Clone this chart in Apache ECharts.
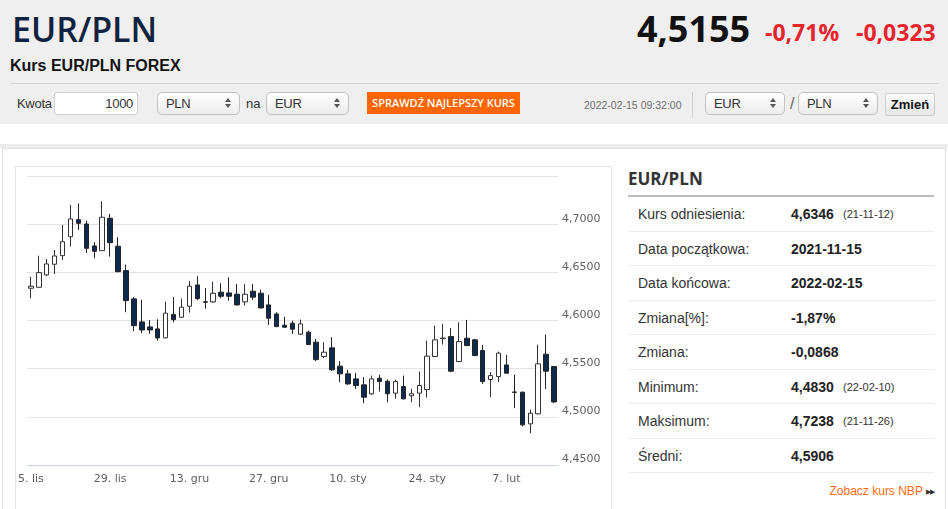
<!DOCTYPE html>
<html>
<head>
<meta charset="utf-8">
<script src="https://cdn.jsdelivr.net/npm/echarts@6/dist/echarts.min.js"></script>
<style>
  body { margin: 0; width: 948px; height: 509px; overflow: hidden; background: #fff; font-family: Arial, "Liberation Sans", sans-serif; color: #333; position: relative; }
  .abs { position: absolute; white-space: nowrap; }
  .sel { position: absolute; height: 21px; border: 1px solid #c2c2c2; border-radius: 5px; background: linear-gradient(#ffffff, #ececec); font-size: 13px; letter-spacing: -0.3px; line-height: 21px; padding-left: 8px; box-sizing: content-box; }
  .sel .up { position: absolute; right: 8px; top: 5px; border-left: 3px solid transparent; border-right: 3px solid transparent; border-bottom: 4px solid #555; }
  .sel .dn { position: absolute; right: 8px; top: 11px; border-left: 3px solid transparent; border-right: 3px solid transparent; border-top: 4px solid #555; }
  .row { position: absolute; left: 628px; width: 306px; height: 33.5px; border-bottom: 1px solid #ececec; font-size: 14px; }
  .row span { position: absolute; top: 0; line-height: 34px; }
  .row .lab { left: 10px; color: #333; }
  .row .val { left: 163px; font-weight: bold; color: #222; }
  .row .sm { left: 215px; font-size: 11px; color: #333; }
</style>
</head>
<body>
<!-- tlo naglowka -->
<div class="abs" style="left:0;top:0;width:948px;height:124px;background:#efefef;"></div>
<div class="abs" style="left:0;top:144px;width:948px;height:4px;background:#ececec;"></div>

<!-- naglowek -->
<div class="abs" style="left:12px;top:12px;font:600 34px/34px 'Open Sans';color:#0f2340;">EUR/PLN</div>
<div class="abs" style="left:10px;top:58px;font:bold 16px/16px Arial,'Liberation Sans';color:#111;">Kurs EUR/PLN FOREX</div>
<div class="abs" style="left:637px;top:11px;font:bold 36px/36px 'Open Sans';color:#111;">4,5155</div>
<div class="abs" style="left:765px;top:21px;font:bold 23px/23px 'Open Sans';color:#e8232c;">-0,71%</div>
<div class="abs" style="left:856px;top:21px;font:bold 23px/23px 'Open Sans';color:#e8232c;">-0,0323</div>
<div class="abs" style="left:10px;top:83px;width:929px;height:1px;background:#d4d4d4;"></div>

<!-- formularz -->
<div class="abs" style="left:17px;top:92px;font-size:13px;letter-spacing:-0.3px;line-height:23px;">Kwota</div>
<div class="abs" style="left:54px;top:92px;width:82px;height:21px;border:1px solid #cfcfcf;border-radius:3px;background:#fff;font-size:13px;letter-spacing:-0.3px;line-height:21px;text-align:right;"><span style="padding-right:4px;">1000</span></div>
<div class="sel" style="left:157px;top:92px;width:73px;">PLN<i class="up"></i><i class="dn"></i></div>
<div class="abs" style="left:246px;top:92px;font-size:13px;line-height:23px;">na</div>
<div class="sel" style="left:266px;top:92px;width:73px;">EUR<i class="up"></i><i class="dn"></i></div>
<div class="abs" style="left:367px;top:92px;width:153px;height:22px;background:#ff6600;color:#fff;font:600 11px/22px 'Open Sans';text-align:center;">SPRAWDŹ NAJLEPSZY KURS</div>
<div class="abs" style="left:584px;top:96px;font-size:10.5px;line-height:18px;color:#6e6e6e;">2022-02-15 09:32:00</div>
<div class="abs" style="left:692px;top:92px;width:1px;height:26px;background:#d0d0d0;"></div>
<div class="sel" style="left:705px;top:92px;width:70px;">EUR<i class="up"></i><i class="dn"></i></div>
<div class="abs" style="left:790px;top:92px;font-size:16px;line-height:23px;color:#666;">/</div>
<div class="sel" style="left:798px;top:92px;width:70px;">PLN<i class="up"></i><i class="dn"></i></div>
<div class="abs" style="left:885px;top:93px;width:48px;height:21px;border:1px solid #cdcdcd;border-radius:2px;background:linear-gradient(#fbfbfb,#e6e6e6);font:bold 13px/21px Arial,'Liberation Sans';text-align:center;color:#111;">Zmień</div>

<!-- panel -->
<div class="abs" style="left:2px;top:148px;width:942px;height:380px;background:#fff;border:1px solid #e2e2e2;"></div>
<div class="abs" style="left:15px;top:166px;width:595px;height:350px;background:#fff;border:1px solid #e4e4e4;"></div>
<div id="main" class="abs" style="left:15px;top:166px;width:597px;height:343px;"></div>

<!-- tabela -->
<div class="abs" style="left:628px;top:170px;font:bold 17px/17px 'Open Sans';color:#333;">EUR/PLN</div>
<div class="abs" style="left:628px;top:195px;width:306px;height:2px;background:#bcbcbc;"></div>
<div id="tab"></div>
<div class="abs" style="right:14px;top:483px;font-size:12px;line-height:16px;color:#ff6a13;">Zobacz kurs NBP <span style="font-size:7px;color:#333;letter-spacing:-1px;vertical-align:1px;">▶▶</span></div>

<script>
// etykiety osi X (indeksy swiec z tickiem)
var tickIndex = [0, 10, 20, 30, 40, 50, 60];
var tickLabels = ['5. lis', '29. lis', '13. gru', '27. gru', '10. sty', '24. sty', '7. lut'];

var dates = [
  '2021-11-15','2021-11-16','2021-11-17','2021-11-18','2021-11-19',
  '2021-11-22','2021-11-23','2021-11-24','2021-11-25','2021-11-26',
  '2021-11-29','2021-11-30','2021-12-01','2021-12-02','2021-12-03',
  '2021-12-06','2021-12-07','2021-12-08','2021-12-09','2021-12-10',
  '2021-12-13','2021-12-14','2021-12-15','2021-12-16','2021-12-17',
  '2021-12-20','2021-12-21','2021-12-22','2021-12-23','2021-12-24',
  '2021-12-27','2021-12-28','2021-12-29','2021-12-30','2021-12-31',
  '2022-01-03','2022-01-04','2022-01-05','2022-01-06','2022-01-07',
  '2022-01-10','2022-01-11','2022-01-12','2022-01-13','2022-01-14',
  '2022-01-17','2022-01-18','2022-01-19','2022-01-20','2022-01-21',
  '2022-01-24','2022-01-25','2022-01-26','2022-01-27','2022-01-28',
  '2022-01-31','2022-02-01','2022-02-02','2022-02-03','2022-02-04',
  '2022-02-07','2022-02-08','2022-02-09','2022-02-10','2022-02-11',
  '2022-02-14','2022-02-15'
];

var opens = [
  4.6335, 4.6345, 4.6473, 4.6584, 4.6673, 4.6870, 4.7047, 4.7002, 4.6774, 4.6725,
  4.7061, 4.6771, 4.6518, 4.6224, 4.5985, 4.5933, 4.5913, 4.5820, 4.6061, 4.6034,
  4.6148, 4.6369, 4.6195, 4.6193, 4.6294, 4.6286, 4.6273, 4.6193, 4.6304, 4.6283,
  4.6162, 4.6068, 4.5951, 4.5972, 4.5858, 4.5879, 4.5775, 4.5626, 4.5716, 4.5526,
  4.5446, 4.5394, 4.5332, 4.5239, 4.5401, 4.5370, 4.5246, 4.5314, 4.5218, 4.5246,
  4.5283, 4.5626, 4.5812, 4.5833, 4.5574, 4.5816, 4.5799, 4.5688, 4.5387, 4.5418,
  4.5539, 4.5258, 4.5256, 4.4927, 4.5031, 4.5650, 4.5522
];
var closes = [
  4.6356, 4.6497, 4.6587, 4.6670, 4.6818, 4.7054, 4.7009, 4.6750, 4.6719, 4.7072,
  4.6808, 4.6507, 4.6206, 4.5947, 4.5902, 4.5902, 4.5819, 4.6076, 4.6009, 4.6138,
  4.6356, 4.6227, 4.6190, 4.6283, 4.6252, 4.6252, 4.6162, 4.6273, 4.6242, 4.6131,
  4.6024, 4.5937, 4.5930, 4.5910, 4.5965, 4.5750, 4.5594, 4.5671, 4.5488, 4.5446,
  4.5342, 4.5325, 4.5204, 4.5394, 4.5366, 4.5239, 4.5366, 4.5187, 4.5239, 4.5325,
  4.5630, 4.5799, 4.5818, 4.5474, 4.5781, 4.5740, 4.5636, 4.5366, 4.5428, 4.5661,
  4.5453, 4.5254, 4.4917, 4.5038, 4.5550, 4.5474, 4.5155
];
var lows = [
  4.6231, 4.6340, 4.6460, 4.6483, 4.6626, 4.6767, 4.6940, 4.6701, 4.6646, 4.6725,
  4.6663, 4.6500, 4.6086, 4.5889, 4.5868, 4.5861, 4.5792, 4.5815, 4.5982, 4.6027,
  4.6082, 4.6210, 4.6123, 4.6183, 4.6231, 4.6206, 4.6155, 4.6155, 4.6214, 4.6123,
  4.5954, 4.5930, 4.5928, 4.5861, 4.5850, 4.5747, 4.5578, 4.5612, 4.5477, 4.5360,
  4.5332, 4.5290, 4.5142, 4.5228, 4.5262, 4.5152, 4.5187, 4.5180, 4.5152, 4.5100,
  4.5200, 4.5620, 4.5750, 4.5464, 4.5567, 4.5733, 4.5630, 4.5342, 4.5204, 4.5360,
  4.5453, 4.5090, 4.4900, 4.4830, 4.5024, 4.5290, 4.5142
];
var highs = [
  4.6455, 4.6673, 4.6639, 4.6732, 4.6992, 4.7200, 4.7215, 4.7036, 4.6812, 4.7238,
  4.7106, 4.6864, 4.6580, 4.6242, 4.6214, 4.6006, 4.6013, 4.6196, 4.6245, 4.6227,
  4.6411, 4.6460, 4.6338, 4.6404, 4.6387, 4.6449, 4.6380, 4.6378, 4.6380, 4.6320,
  4.6266, 4.6086, 4.6040, 4.5999, 4.6010, 4.5895, 4.5809, 4.5775, 4.5827, 4.5578,
  4.5488, 4.5456, 4.5412, 4.5428, 4.5436, 4.5387, 4.5387, 4.5428, 4.5291, 4.5470,
  4.5791, 4.5947, 4.5964, 4.5920, 4.5982, 4.6006, 4.5809, 4.5747, 4.5464, 4.5677,
  4.5643, 4.5436, 4.5262, 4.5073, 4.5750, 4.5854, 4.5522
];

// tabela po prawej
var statLabels = ['Kurs odniesienia:', 'Data początkowa:', 'Data końcowa:', 'Zmiana[%]:', 'Zmiana:', 'Minimum:', 'Maksimum:', 'Średni:'];
var statValues = ['4,6346', '2021-11-15', '2022-02-15', '-1,87%', '-0,0868', '4,4830', '4,7238', '4,5906'];
var statDates = ['(21-11-12)', '', '', '', '', '(22-02-10)', '(21-11-26)', ''];

var tab = document.getElementById('tab');
statLabels.forEach(function (lab, i) {
  var r = document.createElement('div');
  r.className = 'row';
  r.style.top = (197 + 34.5 * i) + 'px';
  r.innerHTML = '<span class="lab">' + lab + '</span><span class="val">' + statValues[i] + '</span>' +
    (statDates[i] ? '<span class="sm">' + statDates[i] + '</span>' : '');
  tab.appendChild(r);
});

var candles = dates.map(function (d, i) {
  return [opens[i], closes[i], lows[i], highs[i]];
});

var chart = echarts.init(document.getElementById('main'));
chart.setOption({
  animation: false,
  grid: { left: 9, right: 54, top: 10, bottom: 44 },
  xAxis: {
    type: 'category',
    data: dates,
    boundaryGap: true,
    axisLine: { lineStyle: { color: '#ccd6eb' } },
    axisTick: {
      alignWithLabel: true,
      length: 8,
      lineStyle: { color: '#ccd6eb' },
      interval: function (idx) { return tickIndex.indexOf(idx) >= 0; }
    },
    axisLabel: {
      interval: function (idx) { return tickIndex.indexOf(idx) >= 0; },
      formatter: function (val, idx) { return tickLabels[tickIndex.indexOf(idx)]; },
      color: '#606060',
      fontFamily: 'DejaVu Sans',
      fontSize: 11,
      margin: 9
    },
    splitLine: { show: false }
  },
  yAxis: {
    type: 'value',
    position: 'right',
    min: 4.45,
    max: 4.75,
    interval: 0.05,
    axisLine: { show: false },
    axisTick: { show: false },
    splitLine: { lineStyle: { color: '#e3e3e3' } },
    axisLabel: {
      showMaxLabel: false,
      formatter: function (v) { return v.toFixed(4).replace('.', ','); },
      color: '#606060',
      fontFamily: 'DejaVu Sans',
      fontSize: 11,
      margin: 4,
      verticalAlign: 'bottom'
    }
  },
  series: [{
    type: 'candlestick',
    data: candles,
    barWidth: 5,
    itemStyle: {
      color: '#ffffff',
      color0: '#0e2a4e',
      borderColor: '#333333',
      borderColor0: '#222222',
      borderColorDoji: '#222222',
      borderWidth: 1
    }
  }]
});
</script>
</body>
</html>
